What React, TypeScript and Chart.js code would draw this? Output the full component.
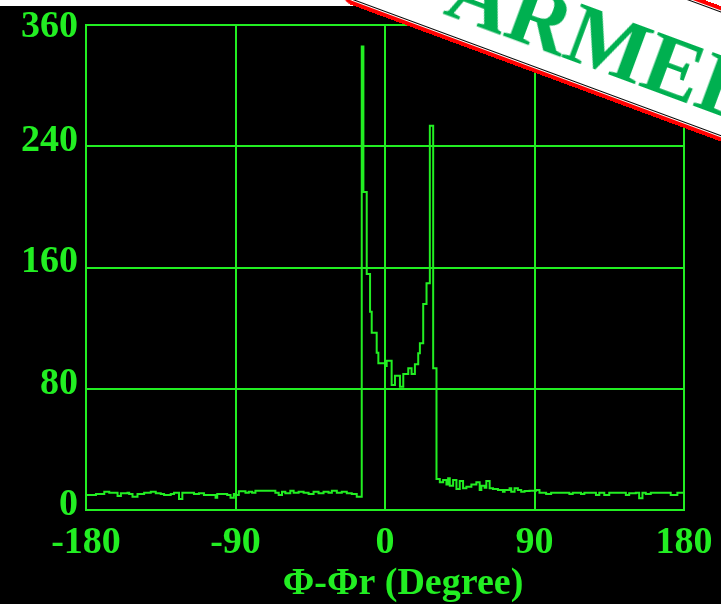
import React, { useEffect, useRef } from "react";
import { Chart, registerables } from "chart.js";

Chart.register(...registerables);

// ---- data -------------------------------------------------------------
const GREEN = "#22ee22";
const xTickValues = [-180, -90, 0, 90, 180];
const yTickValues = [0, 80, 160, 240, 320];
const yTickLabels = ["0", "80", "160", "240", "360"];
const xTitle = "Φ-Φr (Degree)";
const stampText = "ARMED";

// histogram counts, 1° bins, first bin starts at -180
const baseLeftA = [
  9.9, 9.9, 9.9, 9.9, 9.9, 9.9, 10.6, 10.6, 10.6, 10.6,
  10.6, 12.1, 12.1, 12.1, 11.4, 11.4, 11.4, 11.4, 11.4, 9.2,
  9.2, 11.0, 11.0, 11.0, 11.0, 11.4, 10.6, 10.6, 8.8, 8.8,
  8.8, 10.6, 10.6, 10.6, 10.6, 11.4, 11.4, 11.4, 11.4, 12.1,
  12.1, 12.1, 11.0, 11.0, 11.0, 10.6, 10.6, 9.9, 9.9, 9.9,
  9.9, 10.6, 10.6, 11.4, 11.4, 11.4, 7.3, 7.3, 11.4, 11.4,
  11.4, 11.4, 11.4, 11.4, 11.4, 10.6, 10.6, 10.6, 11.0, 11.0,
  11.0, 9.9, 9.9, 9.9, 9.9, 9.9, 9.9, 9.9, 8.1, 10.6,
  10.6, 10.6, 10.6, 10.6, 10.6, 9.9, 9.9, 8.1, 8.1, 10.6,
];
const baseLeftB = [
  9.9, 9.9, 12.4, 12.4, 12.4, 12.4, 11.4, 11.4, 12.1, 12.1,
  11.4, 11.4, 12.7, 12.7, 12.7, 12.7, 12.7, 12.7, 12.7, 12.7,
  12.7, 12.7, 12.7, 12.7, 11.4, 11.4, 9.9, 9.9, 12.1, 12.1,
  11.0, 11.0, 11.0, 12.7, 12.7, 11.4, 11.4, 11.4, 12.1, 12.1,
  12.1, 11.4, 11.4, 11.4, 10.6, 10.6, 10.6, 12.1, 12.1, 12.1,
  11.0, 11.0, 11.0, 12.1, 12.1, 12.1, 11.4, 11.4, 12.7, 12.7,
  12.7, 11.4, 11.4, 11.4, 12.1, 12.1, 12.1, 11.0, 11.0, 11.0,
  10.6, 10.6, 10.6, 8.8, 8.8, 8.8,
];
const peak = [
  305.8, 209.8, 209.8, 155.7, 155.7, 130.8, 117.0, 117.0, 117.0, 103.8,
  96.8, 96.8, 96.8, 96.8, 95.0, 98.5, 98.5, 98.5, 82.5, 82.5,
  88.6, 88.6, 88.6, 81.4, 81.4, 89.7, 89.7, 89.7, 93.5, 93.5,
  89.7, 89.7, 96.1, 96.1, 103.4, 110.0, 110.0, 135.9, 135.9, 149.6,
  149.6, 253.6, 253.6, 93.5, 93.5,
];
const baseRightA = [
  20.5, 20.5, 18.3, 18.3, 19.8, 19.8, 16.9, 20.9, 16.0, 16.0,
  19.8, 19.8, 13.9, 13.9, 19.1, 19.1, 14.3, 14.3, 15.4, 15.4,
  15.4, 16.9, 16.9, 16.9, 18.3, 18.3, 13.2, 16.0, 16.0, 14.7,
  19.1, 19.1, 14.3, 14.3, 13.9, 13.9, 13.9, 13.2, 13.2, 13.2,
  12.1, 13.2, 13.2, 13.2, 14.3, 12.1, 12.1, 14.3, 14.3, 13.2,
  13.2, 12.1, 12.1, 12.5, 12.5, 12.5, 12.7, 12.7, 12.7, 12.7,
];
const baseRightB = [
  13.2, 13.2, 11.4, 11.4, 11.4, 11.4, 10.6, 10.6, 10.6, 11.4,
  11.4, 11.4, 11.4, 11.4, 11.4, 11.4, 11.4, 11.4, 11.4, 11.4,
  10.6, 10.6, 11.4, 11.4, 11.4, 11.4, 11.4, 10.6, 10.6, 11.4,
  11.4, 11.4, 11.4, 11.4, 11.4, 11.4, 9.9, 9.9, 11.4, 11.4,
  11.4, 9.9, 9.9, 9.9, 11.4, 11.4, 11.4, 11.4, 11.4, 11.4,
  11.4, 11.4, 11.4, 11.4, 9.9, 9.9, 11.0, 11.0, 11.0, 11.0,
  11.4, 11.4, 7.7, 7.7, 11.4, 11.4, 10.6, 10.6, 10.6, 11.4,
  11.4, 11.4, 11.4, 11.4, 11.4, 11.4, 11.4, 11.4, 11.4, 11.4,
  11.4, 9.9, 9.9, 9.9, 9.9, 11.4, 11.4, 11.4, 11.4,
];
const binStartDeg = -180;
const binWidthDeg = 1;

const FONT = "'Liberation Serif', 'Times New Roman', serif";

// draws the x-axis title slightly right of centre, as in the reference
const axisTitlePlugin = {
  id: "xAxisTitle",
  afterDraw(chart: any) {
    const { ctx, chartArea, scales } = chart;
    ctx.save();
    ctx.fillStyle = GREEN;
    ctx.font = `bold 38px ${FONT}`;
    ctx.textAlign = "center";
    ctx.textBaseline = "middle";
    ctx.fillText(xTitle, (chartArea.left + chartArea.right) / 2 + 18, scales.x.bottom - 20);
    ctx.restore();
  },
};

export default function App() {
  const ref = useRef<HTMLCanvasElement | null>(null);

  useEffect(() => {
    if (!ref.current) return;
    const counts = [...baseLeftA, ...baseLeftB, ...peak, ...baseRightA, ...baseRightB];
    const points = counts.map((v, i) => ({ x: binStartDeg + i * binWidthDeg, y: v }));
    points.push({ x: binStartDeg + counts.length * binWidthDeg, y: counts[counts.length - 1] });
    const lastIdx = yTickLabels.length - 1;

    const chart = new Chart(ref.current, {
      type: "line",
      data: {
        datasets: [
          {
            data: points,
            stepped: "before",
            borderColor: GREEN,
            borderWidth: 2,
            pointRadius: 0,
            fill: false,
          },
        ],
      },
      plugins: [axisTitlePlugin],
      options: {
        animation: false,
        responsive: false,
        maintainAspectRatio: false,
        devicePixelRatio: 1,
        layout: { padding: { top: 19, right: 37, left: 0, bottom: 0 } },
        plugins: { legend: { display: false }, tooltip: { enabled: false } },
        scales: {
          x: {
            type: "linear",
            min: -180,
            max: 180,
            afterBuildTicks: (s: any) => {
              s.ticks = xTickValues.map((v) => ({ value: v }));
            },
            afterFit: (s: any) => {
              s.height = 94;
              s.paddingLeft = 0;
              s.paddingRight = 0;
            },
            grid: { color: GREEN, lineWidth: 2, drawTicks: false },
            border: { color: GREEN, width: 2 },
            ticks: {
              color: GREEN,
              padding: 10,
              maxRotation: 0,
              autoSkip: false,
              font: { family: FONT, size: 38, weight: "bold" },
            },
            title: { display: false, text: xTitle },
          },
          y: {
            type: "linear",
            min: 0,
            max: 320,
            afterBuildTicks: (s: any) => {
              s.ticks = yTickValues.map((v) => ({ value: v }));
            },
            afterFit: (s: any) => {
              s.width = 86;
              s.paddingTop = 0;
              s.paddingBottom = 0;
            },
            grid: { color: GREEN, lineWidth: 2, drawTicks: false },
            border: { color: GREEN, width: 2 },
            ticks: {
              color: GREEN,
              padding: 8,
              labelOffset: -5,
              autoSkip: false,
              callback: (_v: any, i: number) => (i === lastIdx ? ["", yTickLabels[i]] : yTickLabels[i]),
              font: { family: FONT, size: 38, weight: "bold", lineHeight: 0.37 },
            },
          },
        },
      },
    });
    return () => chart.destroy();
  }, []);

  return (
    <div
      style={{
        position: "fixed",
        left: 0,
        top: 0,
        width: 721,
        height: 604,
        overflow: "hidden",
        background: "#ffffff",
      }}
    >
      <div style={{ position: "absolute", left: 0, top: 6, width: 721, height: 598, background: "#000" }}>
        <canvas ref={ref} width={721} height={598} style={{ display: "block", width: 721, height: 598 }} />
      </div>
      <div
        style={{
          position: "absolute",
          left: 341,
          top: 1 - 127,
          width: 560,
          height: 127,
          boxSizing: "border-box",
          border: "4px solid #ff0000",
          borderRadius: 10,
          background: "#ffffff",
          boxShadow: "inset 0 0 0 1px #ffffff, inset 0 0 0 2px #000000",
          transformOrigin: "left bottom",
          transform: "rotate(20.3deg)",
        }}
      >
        <span
          style={{
            position: "absolute",
            left: 95,
            bottom: 6,
            fontFamily: FONT,
            fontWeight: "bold",
            fontSize: 87,
            lineHeight: 1,
            color: "#00b050",
            whiteSpace: "nowrap",
          }}
        >
          {stampText}
        </span>
      </div>
    </div>
  );
}
